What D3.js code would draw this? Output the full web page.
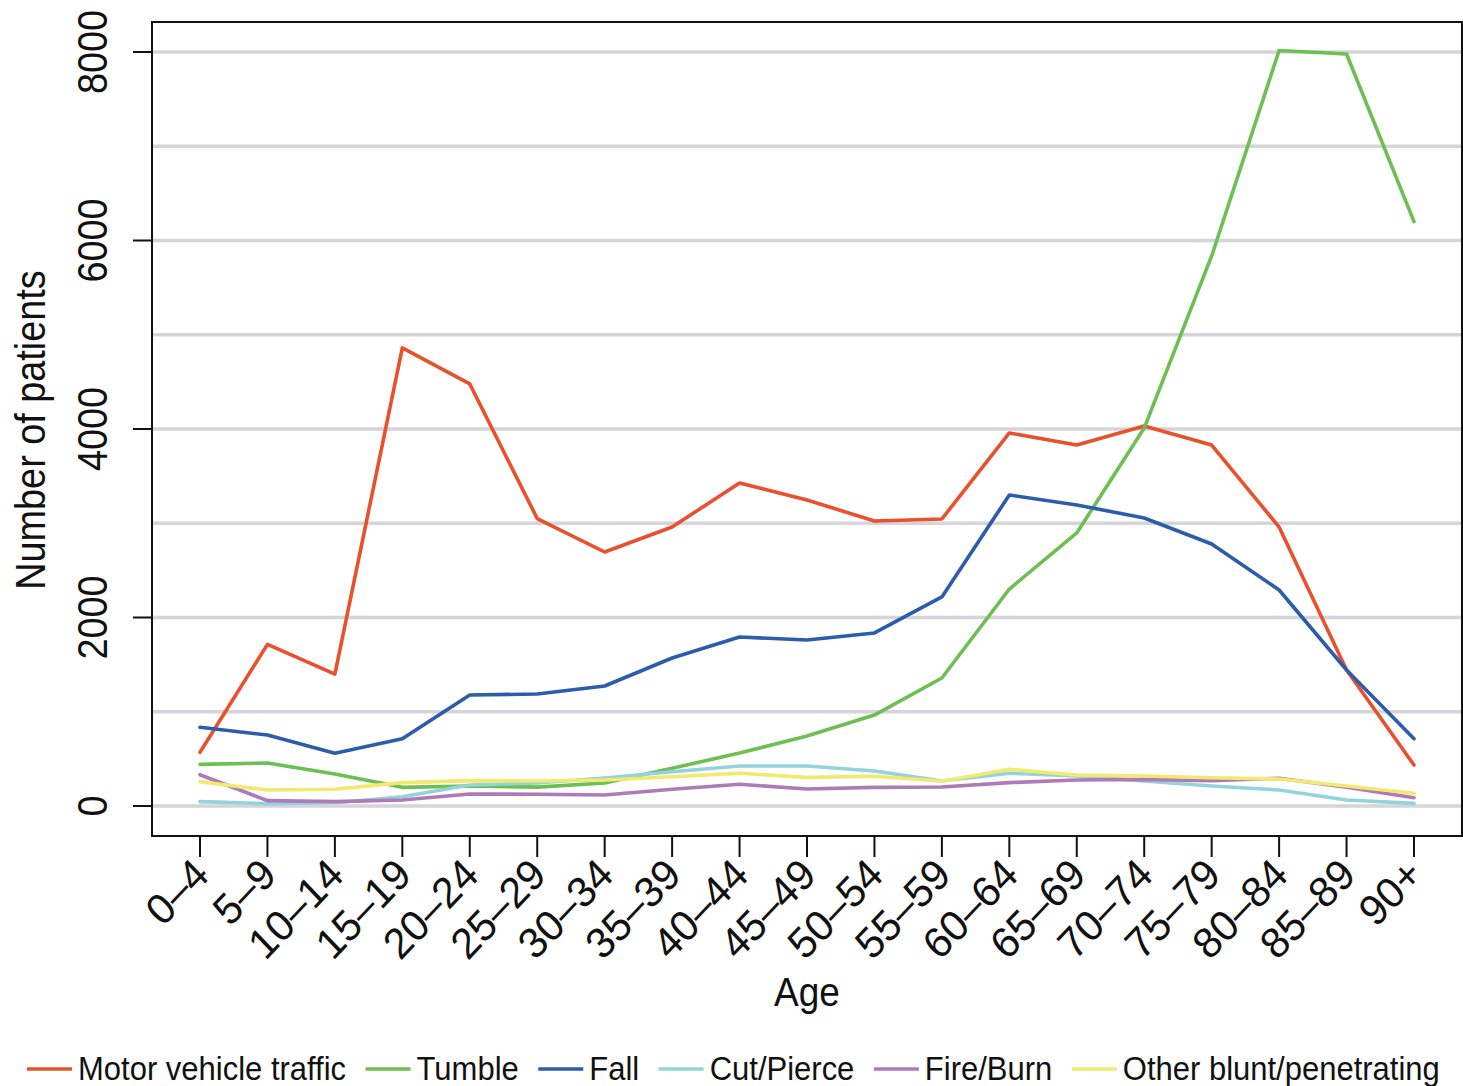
<!DOCTYPE html>
<html><head><meta charset="utf-8">
<script src="https://cdn.jsdelivr.net/npm/d3@7"></script>
<style>
body{margin:0;background:#fff;}
text{font-family:"Liberation Sans",Arial,Helvetica,sans-serif;fill:#111;}
</style></head>
<body><svg id="c" width="1463" height="1086"></svg>
<script>
const ages = ["0–4","5–9","10–14","15–19","20–24","25–29","30–34","35–39","40–44","45–49","50–54","55–59","60–64","65–69","70–74","75–79","80–84","85–89","90+"];
const motorVehicle = [570,1715,1400,4860,4478,3050,2695,2960,3427,3247,3024,3045,3958,3830,4032,3830,2960,1443,435];
const tumble = [442,456,340,198,212,200,244,400,562,743,965,1358,2302,2897,4010,5836,8016,7979,6200];
const fall = [835,753,560,714,1178,1188,1273,1570,1793,1761,1836,2218,3300,3194,3056,2780,2292,1443,714];
const cutPierce = [46,25,35,99,223,244,297,364,424,424,371,265,347,318,265,212,170,64,28];
const fireBurn = [332,57,46,64,127,125,117,177,230,180,198,202,248,276,283,269,294,198,88];
const otherBlunt = [258,170,177,248,269,265,276,311,347,304,315,262,389,329,318,300,286,212,135];
const seriesNames = ["Motor vehicle traffic","Tumble","Fall","Cut/Pierce","Fire/Burn","Other blunt/penetrating"];
const seriesColors = ["#E9502B","#6CBF50","#2B5DAA","#93D4DC","#AF7AB8","#F2EA70"];
const yTicks = [0,2000,4000,6000,8000];
const yGrid = [0,1000,2000,3000,4000,5000,6000,7000,8000];

const series = [motorVehicle,tumble,fall,cutPierce,fireBurn,otherBlunt].map((v,i)=>({name:seriesNames[i],color:seriesColors[i],values:v}));

const L=152,R=1462,T=22,B=836;
const svg=d3.select("#c");
const x=d3.scalePoint().domain(ages).range([200,1414]);
const y=d3.scaleLinear().domain([0,8000]).range([806,52]);

// grid
svg.append("g").selectAll("line").data(yGrid).join("line")
 .attr("x1",L).attr("x2",R).attr("y1",d=>y(d)).attr("y2",d=>y(d))
 .attr("stroke","#d4d4d9").attr("stroke-width",3.5);

// lines
const line=d3.line().x((d,i)=>x(ages[i])).y(d=>y(d));
svg.append("g").selectAll("path").data(series).join("path")
 .attr("d",d=>line(d.values)).attr("fill","none").attr("stroke",d=>d.color)
 .attr("stroke-width",3.6).attr("stroke-linejoin","round").attr("stroke-linecap","round");

// frame
svg.append("rect").attr("x",L).attr("y",T).attr("width",R-L).attr("height",B-T)
 .attr("fill","none").attr("stroke","#111").attr("stroke-width",2);

// y axis
const ya=svg.append("g");
ya.selectAll("line").data(yTicks).join("line").attr("x1",133).attr("x2",L).attr("y1",d=>y(d)).attr("y2",d=>y(d)).attr("stroke","#111").attr("stroke-width",2);
ya.selectAll("text").data(yTicks).join("text")
 .attr("transform",d=>`translate(107,${y(d)}) rotate(-90) scale(0.97,1.08)`).attr("text-anchor","middle")
 .attr("font-size",39).text(d=>d);
svg.append("text").attr("transform","translate(45,430) rotate(-90) scale(0.97,1.08)").attr("text-anchor","middle").attr("font-size",39).text("Number of patients");

// x axis
const xa=svg.append("g");
xa.selectAll("line").data(ages).join("line").attr("x1",d=>x(d)).attr("x2",d=>x(d)).attr("y1",B).attr("y2",857).attr("stroke","#111").attr("stroke-width",2);
xa.selectAll("text").data(ages).join("text")
 .attr("transform",d=>`translate(${x(d)+11},877) scale(1,1.05) rotate(-45)`).attr("text-anchor","end")
 .attr("font-size",41).text(d=>d);
svg.append("text").attr("transform","translate(807,1006) scale(1,1.08)").attr("text-anchor","middle").attr("font-size",37).text("Age");

// legend
const lg=svg.append("g");
let cx=27;
series.forEach(s=>{
  lg.append("line").attr("x1",cx).attr("x2",cx+45).attr("y1",1069).attr("y2",1069).attr("stroke",s.color).attr("stroke-width",3.5);
  const t=lg.append("text").attr("transform",`translate(${cx+51},1080) scale(1,1.08)`).attr("font-size",31).text(s.name);
  cx+=51+t.node().getComputedTextLength()+19.5;
});
</script></body></html>
